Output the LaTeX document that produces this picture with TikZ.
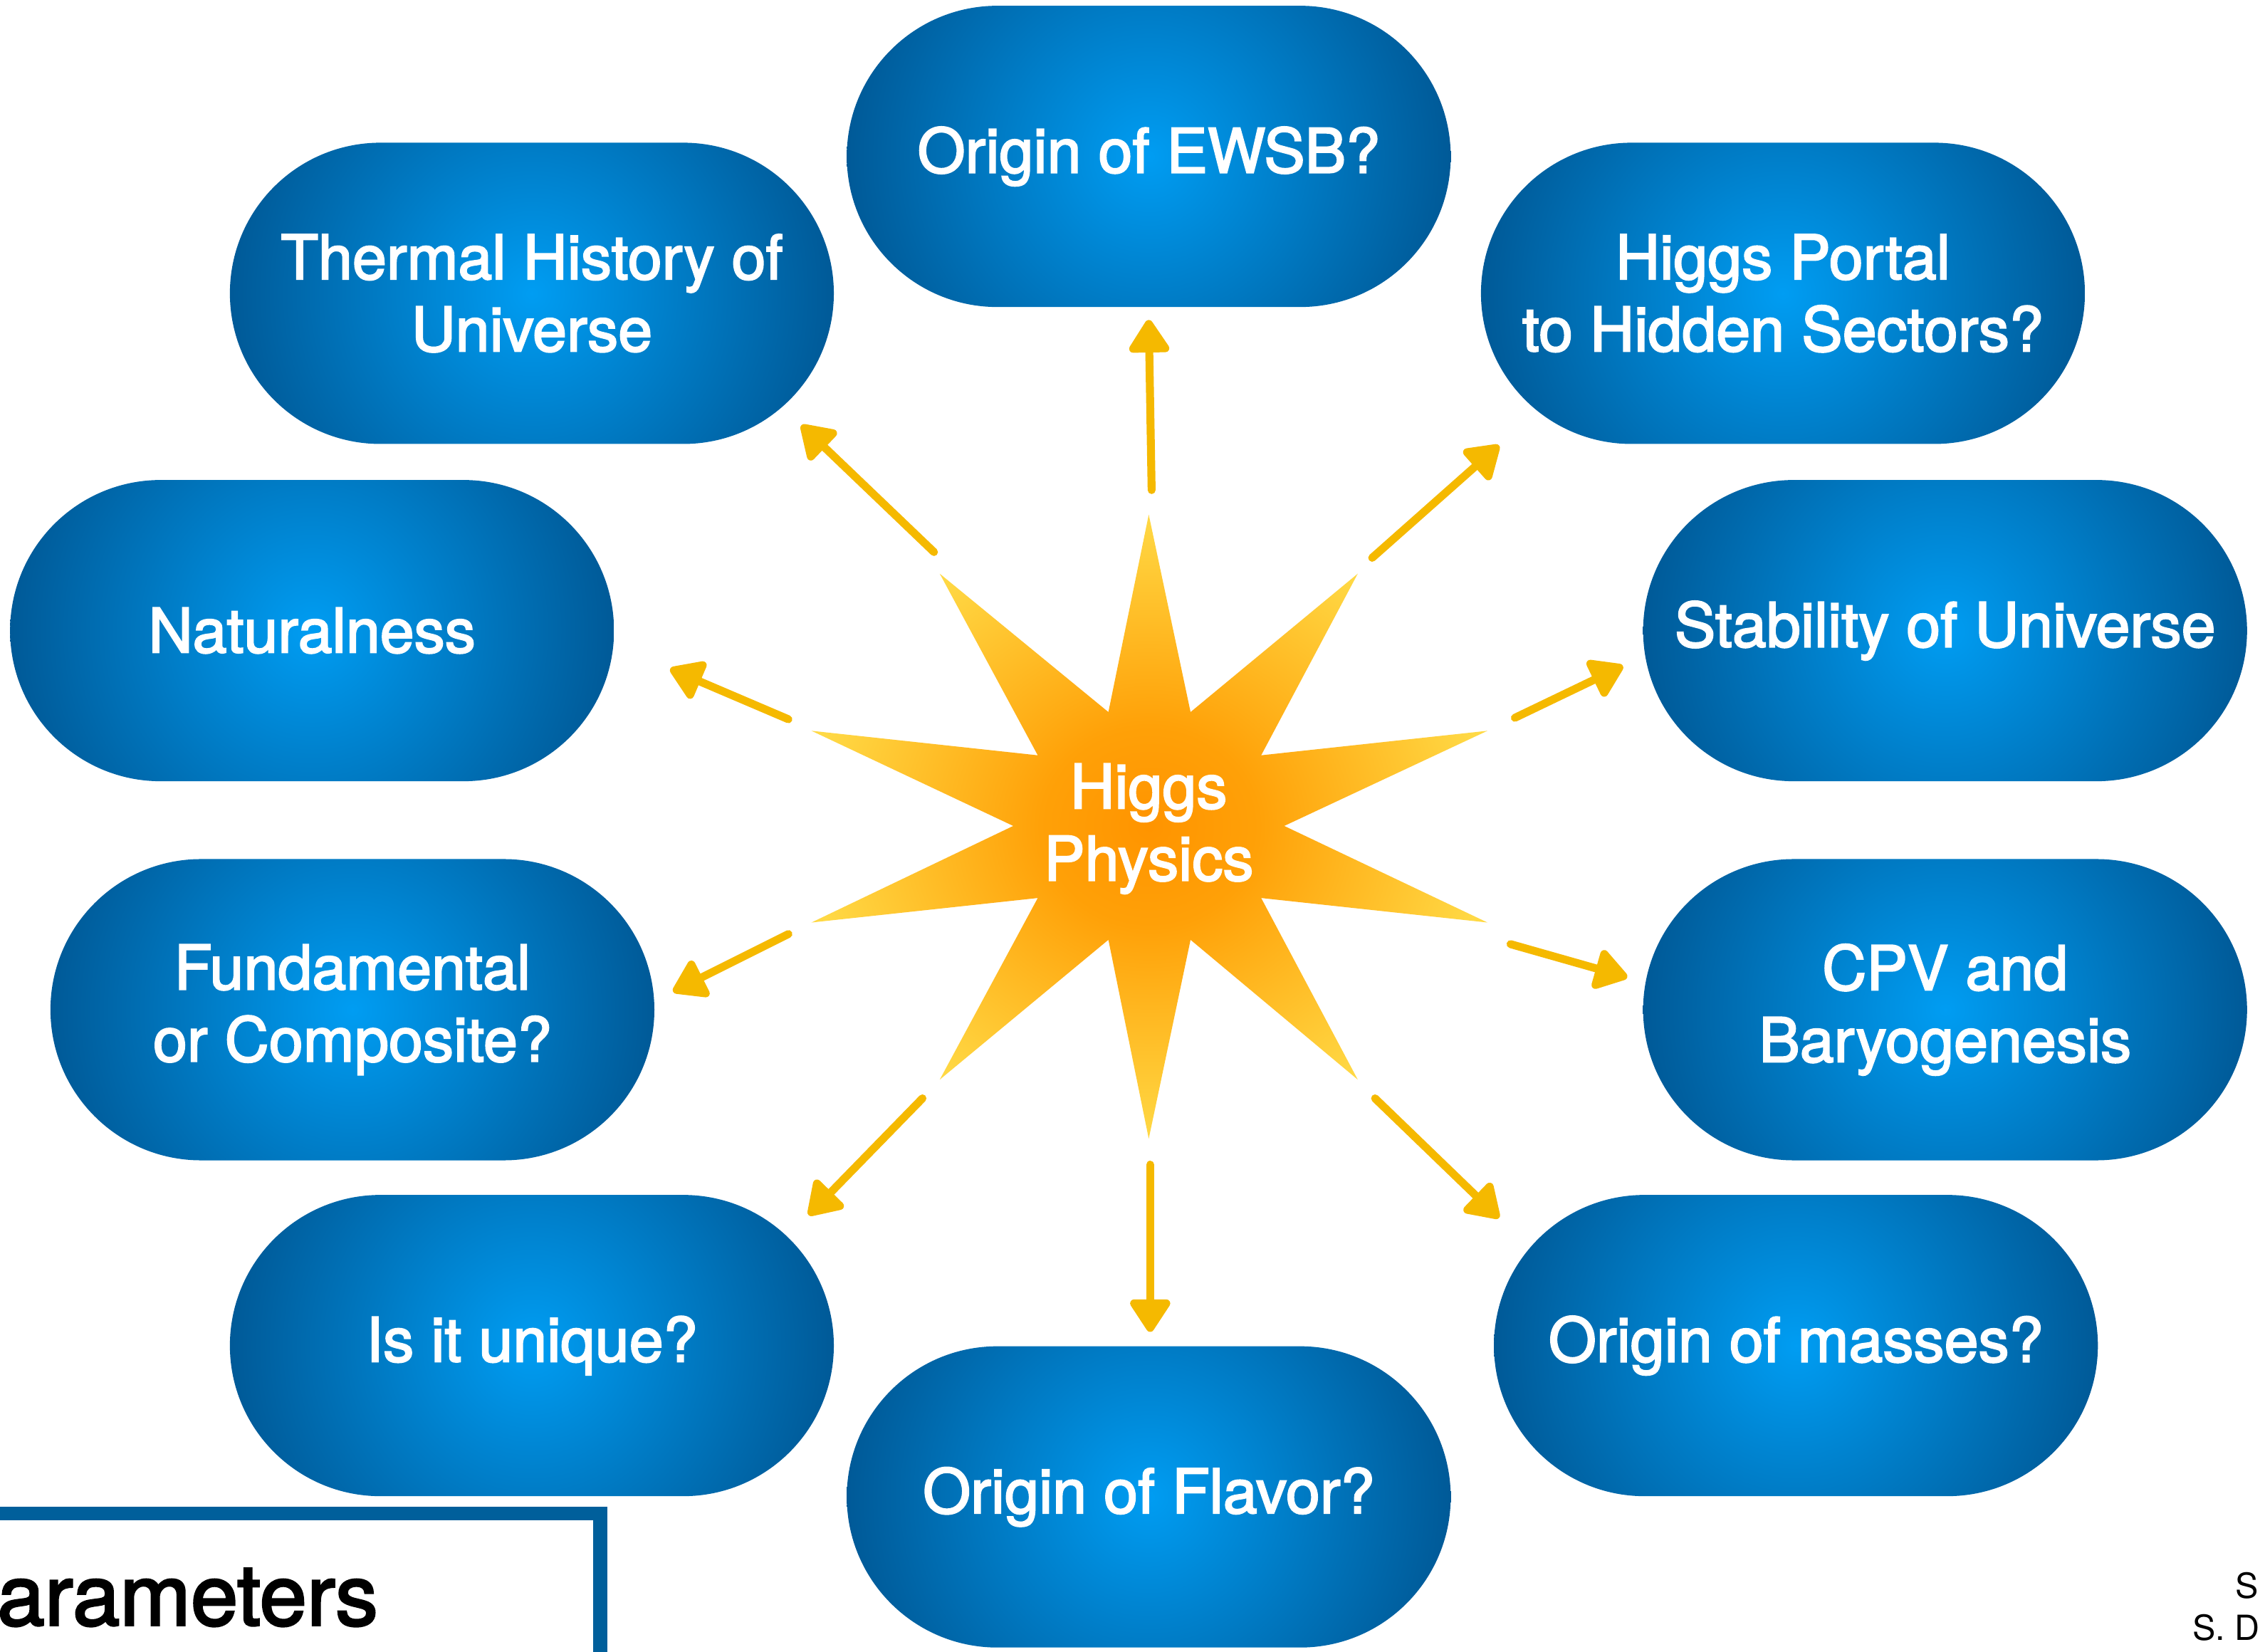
\documentclass[tikz,border=0pt]{standalone}
\usepackage{fontspec}
\setmainfont{TeX Gyre Heros}
\newfontfamily\pillfont[FakeBold=2.5]{TeX Gyre Heros}
\usetikzlibrary{shapes.misc,arrows.meta}
\pgfdeclareradialshading{pillshade}{\pgfpoint{0bp}{0bp}}{rgb(0bp)=(0,0.615,0.95); rgb(25bp)=(0,0.345,0.585); rgb(50bp)=(0,0.345,0.585)}
\pgfdeclareradialshading{starshade}{\pgfpoint{0bp}{0bp}}{rgb(0bp)=(1,0.58,0); rgb(8bp)=(1,0.63,0.03); rgb(25bp)=(1,0.85,0.27); rgb(50bp)=(1,0.85,0.27)}
\definecolor{arrowyellow}{RGB}{245,185,0}
\definecolor{boxblue}{RGB}{0,95,155}
\begin{document}
\begin{tikzpicture}[x=1pt,y=-1pt,
  pill/.style={rounded rectangle, minimum width=419pt, minimum height=209pt, inner sep=0pt,
    text=white, align=center, font=\pillfont\fontsize{42.6}{50}\selectfont,
    path picture={\shade[shading=pillshade] (path picture bounding box.center) circle (215pt);}},
  harrow/.style={draw=arrowyellow, line width=5.5pt, line cap=round,
    -{Triangle[length=25pt,width=31pt,round]}},
  startext/.style={text=white, align=center, font=\pillfont\fontsize{42.6}{50}\selectfont, inner sep=0pt}]
\useasboundingbox (0,0) rectangle (1568,1146);
\fill[white] (0,0) rectangle (1568,1146);

% pills
\node[pill] (ewsb)    at (797,108.5)  {Origin of EWSB?};
\node[pill] (thermal) at (369,203.5)  {Thermal History of\\Universe};
\node[pill] (portal)  at (1237,203.5) {Higgs Portal\\to Hidden Sectors?};
\node[pill] (natural) at (216.5,437.5) {Naturalness};
\node[pill] (stab)    at (1349.5,437.5) {Stability of Universe};
\node[pill] (fund)    at (244.5,700.5) {Fundamental\\or Composite?};
\node[pill] (cpv)     at (1349.5,700.5) {CPV and\\Baryogenesis};
\node[pill] (unique)  at (369,933.5)  {Is it unique?};
\node[pill] (masses)  at (1246,933.5) {Origin of masses?};
\node[pill] (flavor)  at (797,1038.5) {Origin of Flavor?};

% star
\shade[shading=starshade] (797,357) -- (826,494) -- (942,398) -- (875,524) -- (1032,507) -- (891,573)
  -- (1032,640) -- (875,623) -- (942,749) -- (826,652) -- (797,790) -- (769,652) -- (652,749)
  -- (720,623) -- (563,640) -- (703,573) -- (563,507) -- (720,524) -- (652,398) -- (769,494) -- cycle;
\node[startext] (higgs) at (797,575) {Higgs\\Physics};

% arrow ends
\coordinate (t1) at (799,340);  \coordinate (h1) at (797,222);
\coordinate (t2) at (648,383);  \coordinate (h2) at (556,295);
\coordinate (t3) at (952,387);  \coordinate (h3) at (1040,309);
\coordinate (t4) at (547,499);  \coordinate (h4) at (465,464);
\coordinate (t5) at (1051,498); \coordinate (h5) at (1126,462);
\coordinate (t6) at (547,648);  \coordinate (h6) at (467,688);
\coordinate (t7) at (1048,655); \coordinate (h7) at (1129,678);
\coordinate (t8) at (640,762);  \coordinate (h8) at (561,843);
\coordinate (t9) at (954,762);  \coordinate (h9) at (1040,845);
\coordinate (t10) at (798,808); \coordinate (h10) at (798,924);
\foreach \i in {1,...,10} {\draw[harrow] (t\i) -- (h\i);}

% bottom-left box
\draw[boxblue, line width=9.5pt] (-20,1050) rectangle (416.5,1220);
\node[anchor=base west, inner sep=0pt, font=\pillfont\fontsize{59}{60}\selectfont] (params) at (-2,1127.5) {arameters};

% bottom-right credit
\node[anchor=base east, inner sep=0pt, font=\fontsize{24}{26}\selectfont] (credit1) at (1567,1109) {S};
\node[anchor=base west, inner sep=0pt, font=\fontsize{24}{26}\selectfont] (credit2) at (1521,1138) {S. D};
\end{tikzpicture}
\end{document}
